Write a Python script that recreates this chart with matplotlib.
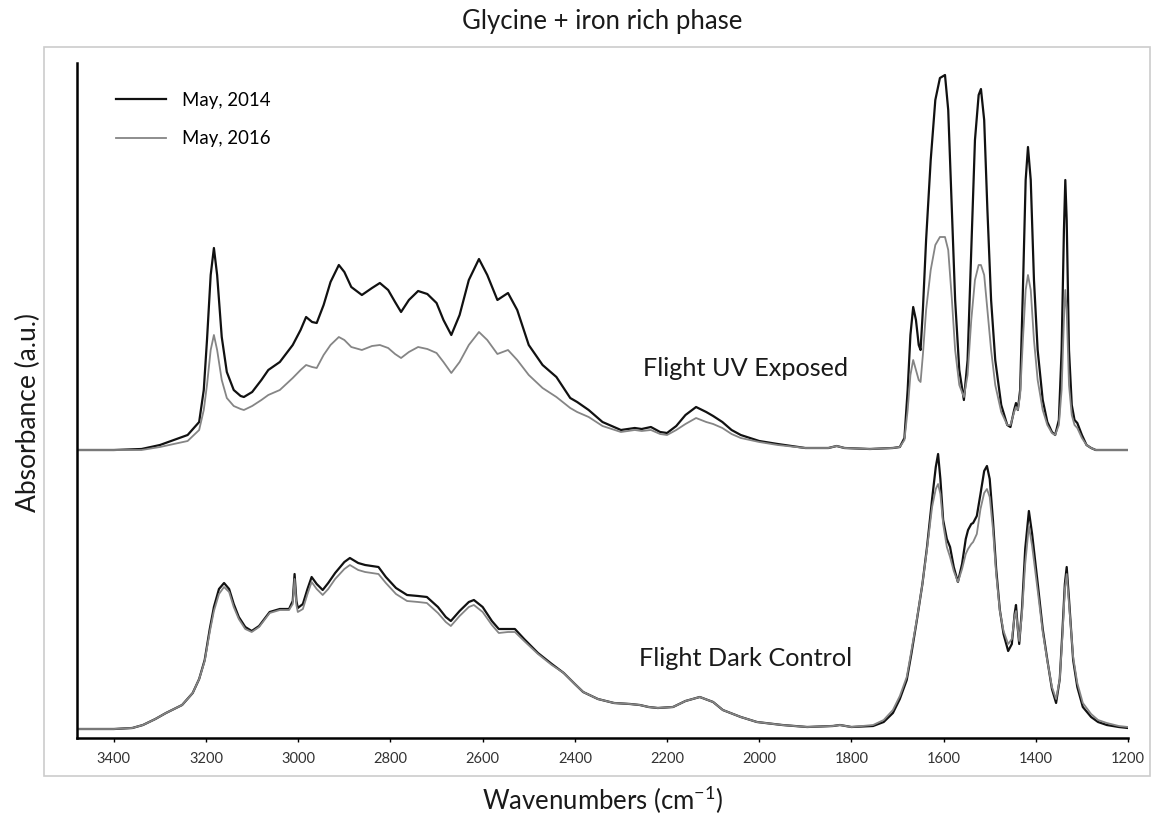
import numpy as np
import matplotlib.pyplot as plt
from matplotlib.patches import Rectangle

plt.rcParams['font.family'] = ['Lato', 'DejaVu Sans']
plt.rcParams['mathtext.fontset'] = 'custom'
plt.rcParams['mathtext.rm'] = 'Lato'

# absorbance in arbitrary units (height above each spectrum's own baseline)
uv_wn = [3480, 3400, 3340, 3300, 3270, 3240, 3215, 3205, 3198, 3190, 3183, 3176, 3166,
         3155, 3140, 3125, 3118, 3100, 3080, 3065, 3040, 3012, 2995, 2983, 2970, 2960,
         2945, 2930, 2912, 2900, 2885, 2862, 2840, 2823, 2805, 2790, 2777, 2760, 2740,
         2720, 2700, 2685, 2668, 2650, 2630, 2608, 2590, 2568, 2545, 2525, 2500, 2470,
         2440, 2410, 2395, 2370, 2340, 2300, 2270, 2255, 2235, 2215, 2200, 2180, 2160,
         2137, 2115, 2100, 2080, 2060, 2040, 2000, 1960, 1900, 1850, 1832, 1815, 1760,
         1710, 1695, 1685, 1678, 1672, 1666, 1660, 1654, 1650, 1645, 1638, 1628, 1618,
         1608, 1597, 1590, 1582, 1575, 1566, 1556, 1548, 1540, 1532, 1524, 1519, 1512,
         1505, 1497, 1488, 1475, 1462, 1455, 1447, 1443, 1439, 1434, 1428, 1422, 1417,
         1411, 1404, 1396, 1385, 1375, 1365, 1358, 1350, 1344, 1339, 1336, 1333, 1328,
         1322, 1316, 1310, 1300, 1290, 1280, 1270, 1200]
uv_2014 = [0, 0, 1, 5, 10, 15, 28, 60, 110, 175, 202, 175, 113,
           78, 60, 54, 53, 58, 70, 80, 88, 105, 120, 133, 128, 127,
           145, 168, 185, 178, 163, 155, 162, 167, 160, 148, 138, 150, 159,
           156, 147, 130, 115, 135, 170, 191, 175, 150, 157, 140, 105, 85,
           73, 52, 48, 40, 28, 20, 22, 21, 23, 18, 17, 24, 35,
           43, 38, 34, 28, 20, 15, 9, 6, 2, 2, 4, 2, 1,
           2, 3, 12, 60, 115, 143, 130, 105, 100, 140, 210, 290, 350,
           372, 375, 340, 240, 150, 80, 50, 90, 200, 310, 355, 361, 330,
           240, 150, 90, 45, 25, 23, 40, 47, 40, 60, 160, 270, 303,
           270, 170, 100, 50, 28, 18, 15, 30, 100, 220, 270, 230, 100,
           45, 30, 27, 15, 5, 2, 0, 0]
uv_2016 = [0, 0, 0, 3, 6, 9, 20, 40, 65, 100, 115, 100, 70,
           52, 44, 41, 40, 44, 50, 55, 60, 72, 80, 85, 83, 82,
           95, 105, 113, 110, 103, 100, 104, 105, 102, 96, 92, 98, 103,
           101, 97, 88, 77, 88, 105, 118, 110, 96, 100, 90, 75, 62,
           53, 42, 38, 33, 24, 18, 20, 19, 20, 16, 15, 20, 26,
           32, 28, 26, 22, 16, 12, 8, 5, 2, 2, 4, 2, 1,
           2, 3, 10, 40, 75, 90, 80, 70, 68, 95, 140, 180, 205,
           213, 213, 200, 150, 100, 65, 53, 75, 130, 170, 185, 185, 175,
           140, 100, 65, 38, 25, 25, 38, 43, 40, 55, 110, 160, 175,
           160, 110, 70, 40, 25, 17, 15, 25, 60, 130, 160, 140, 65,
           35, 25, 22, 12, 5, 2, 0, 0]

dark_wn = [3480, 3400, 3360, 3337, 3310, 3287, 3252, 3229, 3215, 3203, 3192, 3183, 3172,
           3161, 3150, 3140, 3129, 3115, 3101, 3085, 3062, 3040, 3020, 3012, 3008, 3004,
           3001, 2990, 2980, 2971, 2960, 2947, 2935, 2920, 2900, 2888, 2870, 2855, 2826,
           2810, 2788, 2764, 2740, 2721, 2697, 2680, 2669, 2650, 2630, 2619, 2600, 2580,
           2565, 2545, 2530, 2510, 2480, 2450, 2424, 2400, 2382, 2350, 2315, 2280, 2259,
           2240, 2220, 2187, 2160, 2129, 2100, 2079, 2040, 2005, 1950, 1896, 1840, 1825,
           1800, 1753, 1730, 1710, 1695, 1680, 1670, 1658, 1646, 1636, 1625, 1617, 1612,
           1607, 1601, 1593, 1586, 1578, 1569, 1560, 1552, 1547, 1540, 1536, 1528, 1520,
           1512, 1506, 1500, 1493, 1486, 1478, 1470, 1460, 1452, 1446, 1443, 1439, 1436,
           1430, 1423, 1415, 1408, 1395, 1385, 1375, 1365, 1356, 1348, 1342, 1337, 1333,
           1328, 1319, 1310, 1298, 1280, 1265, 1246, 1220, 1200]
dark_2014 = [0, 0, 1, 4, 10, 16, 24, 36, 50, 69, 100, 122, 140,
             146, 140, 125, 112, 102, 98, 103, 117, 120, 120, 128, 155, 128,
             121, 125, 140, 152, 145, 139, 146, 156, 167, 171, 166, 164, 162,
             152, 141, 134, 133, 132, 122, 112, 108, 118, 127, 129, 122, 108,
             100, 100, 100, 90, 76, 65, 56, 45, 37, 30, 26, 25, 24,
             22, 21, 22, 28, 32, 27, 19, 12, 7, 4, 2, 3, 4,
             2, 3, 7, 16, 30, 49, 75, 109, 145, 182, 230, 262, 275,
             250, 209, 190, 182, 162, 147, 165, 190, 199, 205, 206, 213, 235,
             258, 263, 250, 209, 160, 119, 95, 78, 85, 115, 124, 100, 85,
             120, 180, 218, 195, 142, 100, 69, 40, 26, 50, 100, 145, 162,
             130, 69, 42, 22, 12, 7, 4, 2, 1]
dark_2016 = [0, 0, 1, 4, 10, 16, 24, 36, 50, 68, 97, 118, 135,
             142, 137, 122, 110, 100, 97, 102, 116, 119, 119, 125, 150, 124,
             117, 120, 135, 147, 140, 134, 140, 150, 160, 164, 159, 157, 155,
             146, 135, 128, 127, 126, 116, 107, 103, 113, 122, 124, 117, 104,
             96, 97, 97, 88, 75, 64, 56, 45, 37, 30, 26, 25, 24,
             22, 21, 22, 28, 32, 27, 19, 12, 7, 4, 2, 3, 4,
             2, 4, 9, 19, 33, 52, 78, 110, 145, 180, 222, 240, 245,
             235, 205, 182, 172, 158, 147, 160, 175, 180, 185, 187, 195, 220,
             236, 240, 232, 200, 155, 118, 98, 85, 90, 113, 118, 100, 88,
             115, 165, 203, 183, 135, 97, 68, 42, 30, 50, 95, 140, 155,
             125, 72, 46, 26, 15, 9, 6, 3, 2]

uv_offset = 288
dark_offset = 9
ticks = np.arange(3400, 1199, -200)

fig = plt.figure(figsize=(11.54, 8.16), dpi=100)
W, H = 1154, 816
ax = fig.add_axes([77 / W, 1 - 738 / H, (1128 - 77) / W, (738 - 63) / H])

black = '#111111'
grey = '#858585'
ax.plot(uv_wn, np.array(uv_2014) + uv_offset, color=black, lw=1.6, label='May, 2014')
ax.plot(uv_wn, np.array(uv_2016) + uv_offset, color=grey, lw=1.3, label='May, 2016')
ax.plot(dark_wn, np.array(dark_2014) + dark_offset, color=black, lw=1.6)
ax.plot(dark_wn, np.array(dark_2016) + dark_offset, color=grey, lw=1.3)

ax.set_xlim(3480, 1200)
ax.set_ylim(0, 675)
ax.set_xticks(ticks)
ax.set_xticklabels([str(t) for t in ticks])
ax.set_yticks([])
for s in ['top', 'right']:
    ax.spines[s].set_visible(False)
for s in ['left', 'bottom']:
    ax.spines[s].set_linewidth(1.8)
    ax.spines[s].set_color('black')
ax.tick_params(axis='x', direction='out', length=3, width=1, pad=7,
               labelsize=10.5, labelcolor='#333333')

ax.legend(loc='upper left', bbox_to_anchor=(116 / W, 1 - 92 / H),
          bbox_transform=fig.transFigure, frameon=False, fontsize=13.4,
          handlelength=2.7, handletextpad=0.86, labelspacing=1.15,
          borderpad=0, borderaxespad=0)

fig.text(746 / W, 1 - 369 / H, 'Flight UV Exposed', fontsize=18.2,
         ha='center', va='center', color='#1a1a1a')
fig.text(746 / W, 1 - 658 / H, 'Flight Dark Control', fontsize=18.2,
         ha='center', va='center', color='#1a1a1a')
fig.text(602 / W, 1 - 22 / H, 'Glycine + iron rich phase', fontsize=18.5,
         ha='center', va='center', color='#1a1a1a')
fig.text(603 / W, 1 - 800 / H, 'Wavenumbers (cm$^{-1}$)', fontsize=18.5,
         ha='center', va='center', color='#1a1a1a')
fig.text(28 / W, 1 - 413 / H, 'Absorbance (a.u.)', fontsize=19, rotation=90,
         ha='center', va='center', color='#1a1a1a')

fig.patches.append(Rectangle((44 / W, 1 - 776 / H), (1150 - 44) / W, (776 - 47) / H,
                             transform=fig.transFigure, fill=False,
                             edgecolor='#cccccc', lw=1.2))

fig.savefig('out.png', dpi=100)
